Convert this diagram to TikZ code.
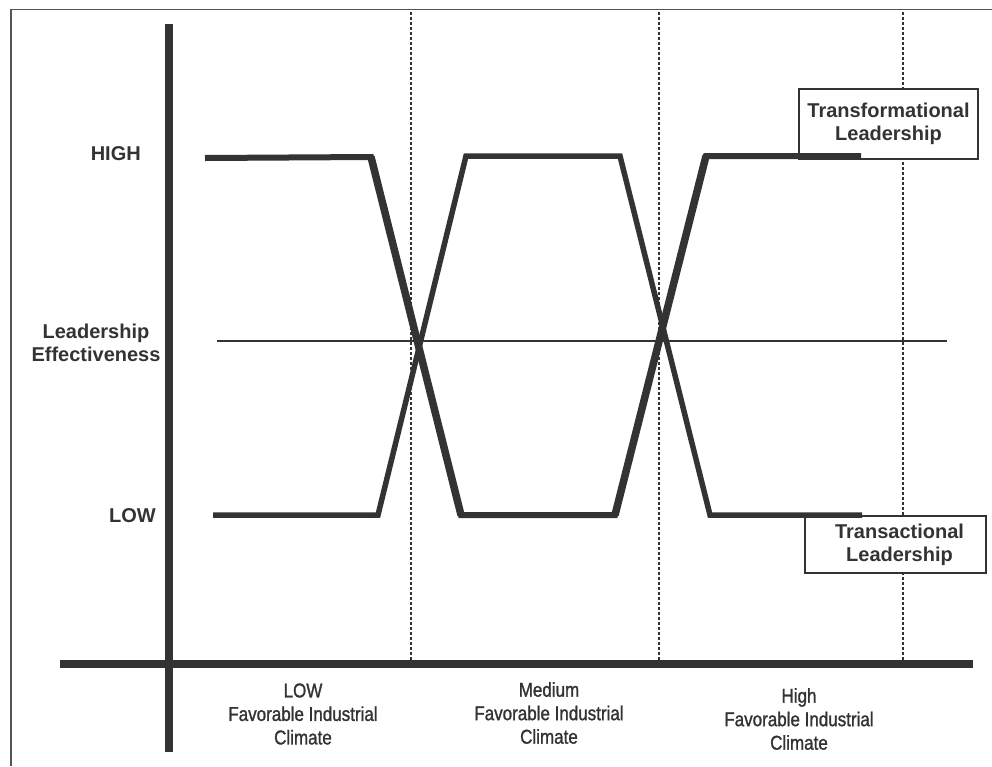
\documentclass[tikz,border=0pt]{standalone}
\usepackage{fontspec}
\setmainfont{Liberation Sans}
\newfontfamily\narrowfont[FakeStretch=0.85,FakeBold=1.2]{Liberation Sans}
\definecolor{ink}{HTML}{333333}
\definecolor{framegray}{HTML}{555555}
\begin{document}
\begin{tikzpicture}[x=1pt,y=-1pt,
  axisline/.style={draw=ink,line width=8pt},
  dotline/.style={draw=ink,line width=2.5pt,dash pattern=on 2.5pt off 2.5pt},
  curveA/.style={draw=ink,line width=6pt},
  curveAdiag/.style={draw=ink,line width=7.5pt},
  curveB/.style={draw=ink,line width=5.5pt},
  midline/.style={draw=ink,line width=2pt},
  lab/.style={font=\bfseries\fontsize{20}{23}\selectfont,text=ink,inner sep=0pt,align=center},
  catlab/.style={font=\narrowfont\fontsize{20}{23.5}\selectfont,text=ink,align=center,inner sep=0pt},
  legendbox/.style={draw=ink,line width=1.5pt,fill=white,inner sep=0pt,
    font=\bfseries\fontsize{20}{23}\selectfont,text=ink,align=center}]
\useasboundingbox (0,0) rectangle (992,766);
\fill[white] (0,0) rectangle (992,766);
% frame
\draw[framegray,line width=1.6pt] (11,766) -- (11,9.5) -- (992,9.5);
% dotted separators
\coordinate (d1t) at (411,12); \coordinate (d1b) at (411,660);
\coordinate (d2t) at (659,12); \coordinate (d2b) at (659,660);
\coordinate (d3t) at (903,12); \coordinate (d3b) at (903,660);
\draw[dotline] (d1t) -- (d1b);
\draw[dotline] (d2t) -- (d2b);
\draw[dotline] (d3t) -- (d3b);
% axes
\coordinate (yt) at (169,24); \coordinate (yb) at (169,752);
\coordinate (xl) at (60,664); \coordinate (xr) at (973,664);
\draw[axisline] (yt) -- (yb);
\draw[axisline] (xl) -- (xr);
% middle line
\coordinate (ml) at (217,341); \coordinate (mr) at (947,341);
\draw[midline] (ml) -- (mr);
% legend boxes
\node[legendbox,minimum width=179pt,minimum height=70pt] (tf) at (888.5,124)
  {Transformational\\Leadership};
\node[legendbox,minimum width=181pt,minimum height=57pt] (tr) at (895.5,544.5)
  {\hspace*{8pt}Transactional\\\hspace*{8pt}Leadership};
% transformational curve
\draw[curveA] (205,158) -- (371,157) -- (461,515) -- (615,515) -- (706,156) -- (861,156);
\draw[curveAdiag] (371,157) -- (461,515);
\draw[curveAdiag] (615,515) -- (706,156);
% transactional curve
\draw[curveB] (213,515) -- (378,515) -- (466,156) -- (620,156) -- (710,515) -- (862,515);
% left labels
\node[lab,anchor=east] (high) at (141,154) {HIGH};
\node[lab] (eff) at (96,343) {Leadership\\Effectiveness};
\node[lab,anchor=east] (low) at (156,516) {LOW};
% category labels
\node[catlab] (c1) at (303,714) {LOW\\Favorable Industrial\\Climate};
\node[catlab] (c2) at (549,713) {Medium\\Favorable Industrial\\Climate};
\node[catlab] (c3) at (799,719) {High\\Favorable Industrial\\Climate};
\end{tikzpicture}
\end{document}
